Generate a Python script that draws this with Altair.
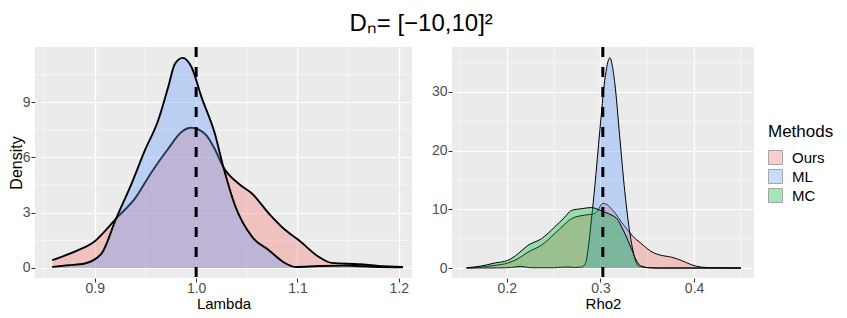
import altair as alt
import pandas as pd

# ---------------- data ----------------
methods = ["Ours", "ML", "MC"]
method_colors = ["#F8766D", "#619CFF", "#00BA38"]

# Lambda panel
lam_ours_x = [0.858, 0.8835, 0.900, 0.910, 0.921, 0.9395, 0.956, 0.9724, 0.9855, 0.995,
              1.0086, 1.018, 1.027, 1.042, 1.0553, 1.0718, 1.0883, 1.1014, 1.121, 1.134,
              1.161, 1.180, 1.204]
lam_ours_y = [0.42, 0.96, 1.45, 2.0, 2.68, 3.76, 5.2, 6.47, 7.38, 7.61,
              7.29, 6.5, 5.45, 4.57, 4.03, 2.95, 2.04, 1.5, 0.6, 0.27,
              0.2, 0.11, 0.05]
lam_ml_x = [0.858, 0.8737, 0.890, 0.9066, 0.921, 0.9362, 0.9494, 0.9625, 0.9724, 0.979,
            0.9866, 0.9955, 1.0053, 1.0185, 1.027, 1.0389, 1.0553, 1.0718, 1.0883, 1.098,
            1.121, 1.1475, 1.174, 1.204]
lam_ml_y = [0.05, 0.14, 0.24, 0.78, 2.68, 4.57, 6.38, 8.01, 9.82, 11.08,
            11.41, 10.9, 9.28, 7.29, 5.45, 3.31, 1.68, 0.96, 0.24, 0.05,
            0.1, 0.12, 0.06, 0.03]

# Rho2 panel
rho_ours_x = [0.157, 0.170, 0.187, 0.201, 0.212, 0.2225, 0.237, 0.251, 0.262, 0.269,
              0.2735, 0.283, 0.294, 0.2985, 0.302, 0.306, 0.311, 0.316, 0.322, 0.329,
              0.3335, 0.344, 0.355, 0.365, 0.376, 0.387, 0.397, 0.408, 0.420, 0.435, 0.450]
rho_ours_y = [0.0, 0.12, 0.45, 0.85, 1.6, 2.7, 3.9, 5.85, 7.5, 8.4,
              8.7, 9.0, 9.3, 10.2, 11.0, 10.9, 10.2, 9.3, 7.9, 6.5,
              5.6, 4.1, 2.75, 2.15, 1.85, 1.25, 0.57, 0.15, 0.05, 0.02, 0.0]
rho_ml_x = [0.157, 0.190, 0.205, 0.215, 0.225, 0.250, 0.265, 0.272, 0.280, 0.284,
            0.287, 0.2905, 0.294, 0.2993, 0.3046, 0.310, 0.3153, 0.3205, 0.326, 0.3332,
            0.3404, 0.350, 0.360, 0.450]
rho_ml_y = [0.0, 0.02, 0.1, 0.3, 0.05, 0.05, 0.2, 0.1, 0.2, 0.8,
            3.5, 8.5, 14.0, 23.4, 32.0, 35.8, 31.5, 22.5, 13.0, 4.2,
            0.4, 0.05, 0.0, 0.0]
rho_mc_x = [0.157, 0.1725, 0.187, 0.201, 0.212, 0.2225, 0.237, 0.251, 0.262, 0.269,
            0.2796, 0.2904, 0.2985, 0.305, 0.312, 0.319, 0.3225, 0.326, 0.333, 0.3386,
            0.344, 0.352, 0.360, 0.450]
rho_mc_y = [0.05, 0.34, 0.85, 1.3, 2.44, 3.86, 5.0, 6.98, 8.69, 9.82,
            10.1, 10.3, 9.9, 9.5, 9.0, 8.1, 7.0, 5.9, 3.3, 1.2,
            0.3, 0.05, 0.0, 0.0]

# axes
lam_ticks_x = [0.9, 1.0, 1.1, 1.2]
lam_minor_x = [0.85, 0.95, 1.05, 1.15]
lam_ticks_y = [0, 3, 6, 9]
lam_minor_y = [1.5, 4.5, 7.5, 10.5]
lam_domain_x = [0.841, 1.213]
lam_domain_y = [-0.55, 12.0]
lam_true = [1.0]

rho_ticks_x = [0.2, 0.3, 0.4]
rho_minor_x = [0.15, 0.25, 0.35, 0.45]
rho_ticks_y = [0, 10, 20, 30]
rho_minor_y = [5, 15, 25, 35]
rho_domain_x = [0.1414, 0.464]
rho_domain_y = [-1.7, 37.65]
rho_true = [0.3025]

FONT = "Liberation Sans"


def make_df(xs, ys, m):
    return pd.DataFrame({"x": xs, "y": ys, "Method": [m] * len(xs)})


color_scale = alt.Scale(domain=methods, range=method_colors)
legend = alt.Legend(
    title="Methods", orient="none", legendX=733, legendY=77,
    symbolType="square", symbolSize=196, symbolOpacity=0.35,
    symbolStrokeColor="black", symbolStrokeWidth=1,
    labelFontSize=15, titleFontSize=17, titleFontWeight="normal",
    titleColor="black", labelColor="black", rowPadding=0,
    titlePadding=9, labelOffset=9,
)


def panel(series, dom_x, dom_y, tx, ty, mx, my, truth, xtitle, ytitle,
          xfmt, lw, width, height):
    xs = alt.Scale(domain=dom_x, nice=False, zero=False)
    ys = alt.Scale(domain=dom_y, nice=False, zero=False)
    xaxis = alt.Axis(values=tx, format=xfmt, title=xtitle, grid=True,
                     gridColor="white", gridWidth=1.2, domain=False,
                     tickColor="#333333", tickSize=4, tickWidth=1,
                     labelColor="#4D4D4D", labelFontSize=14, labelPadding=-1,
                     titleFontSize=15, titleColor="black",
                     titleFontWeight="normal", titlePadding=1)
    yaxis = alt.Axis(values=ty, format="d", title=ytitle, grid=True,
                     gridColor="white", gridWidth=1.2, domain=False,
                     tickColor="#333333", tickSize=4, tickWidth=1,
                     labelColor="#4D4D4D", labelFontSize=14, labelPadding=1,
                     titleFontSize=16, titleColor="black",
                     titleFontWeight="normal", titlePadding=-2)

    minor_x = alt.Chart(pd.DataFrame({"v": mx})).mark_rule(
        color="white", strokeWidth=0.6).encode(x=alt.X("v:Q", scale=xs, axis=xaxis))
    minor_y = alt.Chart(pd.DataFrame({"v": my})).mark_rule(
        color="white", strokeWidth=0.6).encode(y=alt.Y("v:Q", scale=ys, axis=yaxis))
    layers = [minor_x, minor_y]
    for df in series:
        base = alt.Chart(df)
        area = base.mark_area(interpolate="monotone", fillOpacity=0.35).encode(
            x=alt.X("x:Q", scale=xs, axis=xaxis),
            y=alt.Y("y:Q", scale=ys, axis=yaxis),
            color=alt.Color("Method:N", scale=color_scale, legend=legend),
        )
        line = base.mark_line(interpolate="monotone", color="black",
                              strokeWidth=lw).encode(
            x=alt.X("x:Q", scale=xs, axis=xaxis),
            y=alt.Y("y:Q", scale=ys, axis=yaxis),
        )
        layers += [area, line]
    dashed = alt.Chart(pd.DataFrame({"v": truth})).mark_rule(
        color="black", strokeWidth=3, strokeDash=[10, 10]).encode(
        x=alt.X("v:Q", scale=xs, axis=xaxis))
    layers.append(dashed)
    return alt.layer(*layers).properties(width=width, height=height)


left = panel(
    [make_df(lam_ours_x, lam_ours_y, "Ours"), make_df(lam_ml_x, lam_ml_y, "ML")],
    lam_domain_x, lam_domain_y, lam_ticks_x, lam_ticks_y, lam_minor_x, lam_minor_y,
    lam_true, "Lambda", "Density", ".1f", 1.9, 377, 231)

right = panel(
    [make_df(rho_ours_x, rho_ours_y, "Ours"), make_df(rho_ml_x, rho_ml_y, "ML"),
     make_df(rho_mc_x, rho_mc_y, "MC")],
    rho_domain_x, rho_domain_y, rho_ticks_x, rho_ticks_y, rho_minor_x, rho_minor_y,
    rho_true, "Rho2", "", ".1f", 1.0, 302, 231)

chart = alt.hconcat(left, right, spacing=18).properties(
    title=alt.TitleParams(text="Dₙ= [−10,10]²", fontSize=24, anchor="middle",
                          fontWeight="normal", color="black", offset=10,
                          frame="bounds"),
    padding={"left": 0, "top": 3, "right": 0, "bottom": 0},
).configure(font=FONT).configure_view(fill="#EBEBEB", strokeWidth=0)

chart.save("out.html", embed_options={"renderer": "svg", "actions": False})
